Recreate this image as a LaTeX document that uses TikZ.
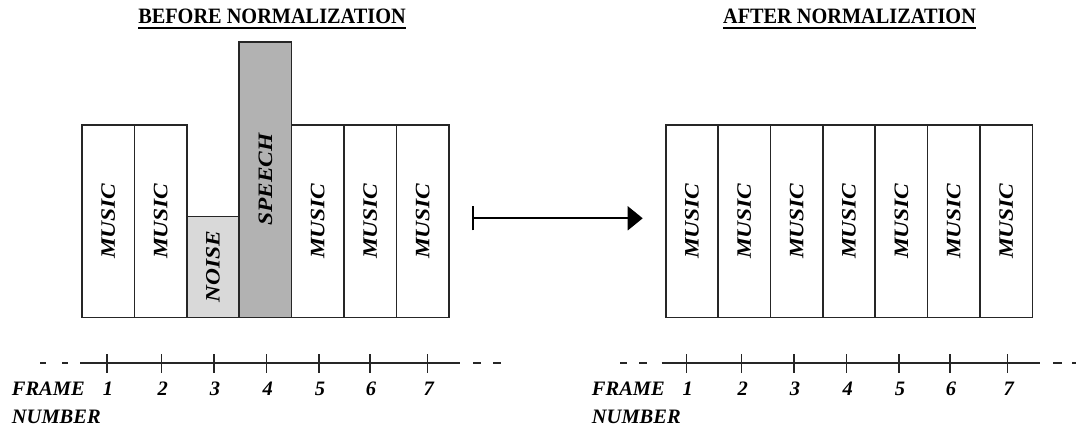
\documentclass[tikz,border=0pt]{standalone}
\usepackage{fontspec}
\setmainfont{Liberation Serif}
\usetikzlibrary{arrows.meta}
\definecolor{noisegray}{RGB}{217,217,217}
\definecolor{speechgray}{RGB}{178,178,178}
\newcommand{\vlabel}[1]{\rotatebox{90}{\scalebox{1.2}[1.05]{#1}}}
\begin{document}
\begin{tikzpicture}[x=1pt,y=-1pt,
  frame/.style={draw=black!85, line width=1.6pt, fill=white, minimum width=52.4pt,
    inner sep=0pt, outer sep=0pt, anchor=south west,
    font=\fontsize{19.5}{20}\selectfont\bfseries\itshape},
  music/.style={frame, minimum height=192.3pt},
  noise/.style={frame, fill=noisegray, minimum height=100.6pt},
  speech/.style={frame, fill=speechgray, minimum height=275.3pt},
  title/.style={inner sep=0pt, anchor=base, font=\fontsize{20.3}{22}\selectfont\bfseries},
  under/.style={line width=2.2pt},
  axis/.style={draw=black!85, line width=1.8pt},
  tick/.style={draw=black!85, line width=1.5pt},
  num/.style={inner sep=0pt, anchor=base, font=\fontsize{20.5}{22}\selectfont\bfseries\itshape},
  axlabel/.style={inner sep=0pt, anchor=base west, font=\fontsize{20.5}{22}\selectfont\bfseries\itshape},
  flow/.style={line width=1.7pt, {Bar[width=24pt]}-{Triangle[length=15pt,width=24pt]}}]
\useasboundingbox (0,0) rectangle (1076,430);

% titles with underline
\node[title] (t1) at (272,24) {\scalebox{1}[1.08]{BEFORE NORMALIZATION}};
\node[title] (t2) at (849.5,24) {\scalebox{1}[1.08]{AFTER NORMALIZATION}};
\draw[under] ([yshift=-3.8pt]t1.base west) -- ([yshift=-3.8pt]t1.base east);
\draw[under] ([yshift=-3.8pt]t2.base west) -- ([yshift=-3.8pt]t2.base east);

% frames before normalization
\node[music]  (a1) at (82,317.3)    {\vlabel{MUSIC}};
\node[music]  (a2) at (134.4,317.3) {\vlabel{MUSIC}};
\node[noise]  (a3) at (186.8,317.3) {\vlabel{NOISE}};
\node[speech] (a4) at (239.2,317.3) {\vlabel{SPEECH}};
\node[music]  (a5) at (291.6,317.3) {\vlabel{MUSIC}};
\node[music]  (a6) at (344.0,317.3) {\vlabel{MUSIC}};
\node[music]  (a7) at (396.4,317.3) {\vlabel{MUSIC}};

% frames after normalization
\foreach \i in {1,...,7}{
  \node[music] (b\i) at ({665.7+(\i-1)*52.37},317.3) {\vlabel{MUSIC}};
}

% transformation arrow
\coordinate (fs) at (472.3,218.3);
\coordinate (fe) at (642.7,218.3);
\draw[flow] (fs) -- (fe);

% left frame-number axis
\coordinate (la) at (80,363.3);
\coordinate (lb) at (460,363.3);
\draw[axis] (la) -- (lb);
\draw[axis] (40,363.3) -- (46,363.3) (62,363.3) -- (68,363.3);
\draw[axis] (473,363.3) -- (481,363.3) (493,363.3) -- (501,363.3);
\foreach \x [count=\i] in {107,161.7,214,266.7,319,370,427.7}{
  \draw[tick] (\x,354) -- (\x,372.7);
  \node[num] (ln\i) at (\x+1,395) {\i};
}
\node[axlabel] (lf) at (11.7,395) {FRAME};
\node[axlabel] (lnb) at (11.7,423) {NUMBER};

% right frame-number axis
\coordinate (ra) at (661.7,363.3);
\coordinate (rb) at (1040,363.3);
\draw[axis] (ra) -- (rb);
\draw[axis] (620,363.3) -- (627,363.3) (639,363.3) -- (647,363.3);
\draw[axis] (1053,363.3) -- (1062,363.3) (1072,363.3) -- (1077,363.3);
\foreach \x [count=\i] in {686.7,741.7,794,846.7,899,950,1007.7}{
  \draw[tick] (\x,354) -- (\x,372.7);
  \node[num] (rn\i) at (\x+1,395) {\i};
}
\node[axlabel] (rf) at (591.7,395) {FRAME};
\node[axlabel] (rnb) at (591.7,423) {NUMBER};
\end{tikzpicture}
\end{document}
